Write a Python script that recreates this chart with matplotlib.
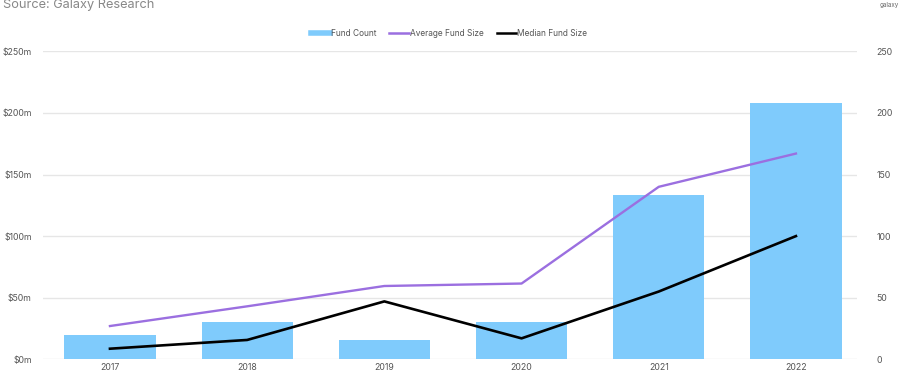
import matplotlib
matplotlib.use("Agg")
import matplotlib.pyplot as plt
from matplotlib.lines import Line2D

years = ["2017", "2018", "2019", "2020", "2021", "2022"]
fund_count = [20, 30, 16, 30, 133, 208]
avg_fund_size = [27, 43, 59.5, 61.5, 140, 167]
median_fund_size = [8.6, 15.7, 47, 17, 55, 100]
left_ticks = [0, 50, 100, 150, 200, 250]
left_labels = ["$0m", "$50m", "$100m", "$150m", "$200m", "$250m"]
right_ticks = [0, 50, 100, 150, 200, 250]

plt.rcParams['font.family'] = ['Inter', 'DejaVu Sans']

fig = plt.figure(figsize=(9.07, 3.73), dpi=100)
ax = fig.add_axes([43/907, 1-359.3/373, (857-43)/907, 308/373])
ax2 = ax.twinx()

x = list(range(len(years)))
bar_color = "#7fcbfc"
purple = "#9b6fe0"
grid_color = "#e6e6e6"
text_color = "#555555"

ax2.bar(x, fund_count, width=0.665, color=bar_color, zorder=2)
ax2.set_ylim(0, 250)
ax2.set_yticks(right_ticks)
ax2.set_yticklabels([str(t) for t in right_ticks])

ax.set_ylim(0, 250)
ax.set_yticks(left_ticks)
ax.set_yticklabels(left_labels)
ax.set_zorder(ax2.get_zorder() + 1)
ax.patch.set_visible(False)

ax.plot(x, avg_fund_size, color=purple, lw=1.7, zorder=3)
ax.plot(x, median_fund_size, color="black", lw=1.9, zorder=3)

ax.set_xlim(-0.488, 5.445)
ax.set_xticks(x)
ax.set_xticklabels(years)

for a in (ax, ax2):
    for s in a.spines.values():
        s.set_visible(False)
    a.tick_params(length=0, labelsize=6.3, colors=text_color)

ax2.tick_params(axis='y', pad=14)
ax.tick_params(axis='y', pad=8)
ax.tick_params(axis='x', pad=3)

for t in left_ticks:
    ax2.axhline(t, color=grid_color, lw=1.0, zorder=1)

handles = [
    Line2D([0], [0], color=bar_color, lw=4),
    Line2D([0], [0], color=purple, lw=1.8),
    Line2D([0], [0], color="black", lw=1.8),
]
fig.legend(handles, ["Fund Count", "Average Fund Size", "Median Fund Size"],
           loc="center", bbox_to_anchor=(449/907, 1-33/373), ncol=3, frameon=False,
           fontsize=6.0, handlelength=2.3, handletextpad=0.2, columnspacing=1.5,
           labelcolor=text_color)

fig.text(3/907, 1-5/373, "Source: Galaxy Research", fontsize=9.2, color="#888888",
         va="center", ha="left")
fig.text(880/907, 1-5/373, "galaxy", fontsize=4.5, color="#666666", va="center", ha="left")

fig.savefig("out.png", dpi=100)
